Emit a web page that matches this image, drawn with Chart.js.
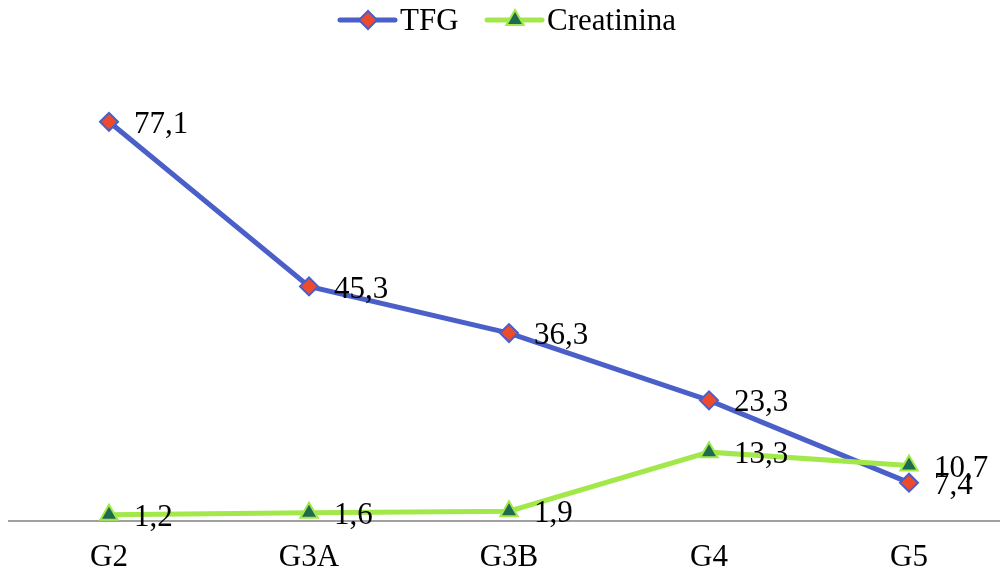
<!DOCTYPE html>
<html>
<head>
<meta charset="utf-8">
<script src="https://cdn.jsdelivr.net/npm/chart.js@4.4.1/dist/chart.umd.min.js"></script>
<style>
  html, body { margin: 0; padding: 0; background: #ffffff; overflow: hidden; }
</style>
</head>
<body>
<canvas id="chart" width="1000" height="575"></canvas>
<script>
// Stages of chronic kidney disease
const categories = ['G2', 'G3A', 'G3B', 'G4', 'G5'];
// Estimated glomerular filtration rate per stage
const tfgValues = [77.1, 45.3, 36.3, 23.3, 7.4];
// Serum creatinine per stage
const creatininaValues = [1.2, 1.6, 1.9, 13.3, 10.7];
const seriesNames = ['TFG', 'Creatinina'];

const FONT = '"Liberation Serif", "Times New Roman", serif';
const FONT_SIZE = 31;
const TFG_LINE = '#4A5FC8';
const TFG_FILL = '#EE4A2C';
const CREA_LINE = '#A2E84A';
const CREA_FILL = '#1F6B50';

const fmt = v => v.toFixed(1).replace('.', ',');
// Place each value at its category index on a numeric x axis
const toPoints = values => values.map((v, i) => ({ x: i, y: v }));

// Value labels to the right of each point
const valueLabels = {
  id: 'valueLabels',
  afterDatasetsDraw(chart) {
    const ctx = chart.ctx;
    ctx.save();
    ctx.font = FONT_SIZE + 'px ' + FONT;
    ctx.fillStyle = '#000000';
    ctx.textAlign = 'left';
    ctx.textBaseline = 'middle';
    chart.data.datasets.forEach((ds, i) => {
      const meta = chart.getDatasetMeta(i);
      meta.data.forEach((pt, j) => {
        ctx.fillText(fmt(ds.data[j].y), pt.x + 25, pt.y + 3);
      });
    });
    ctx.restore();
  }
};

// Legend with a line segment and the marker in its middle
const lineLegend = {
  id: 'lineLegend',
  afterDraw(chart) {
    const ctx = chart.ctx;
    ctx.save();
    ctx.font = FONT_SIZE + 'px ' + FONT;
    ctx.textBaseline = 'middle';
    ctx.textAlign = 'left';
    const y = 20;
    const items = [
      { ds: chart.data.datasets[0], x: 340 },
      { ds: chart.data.datasets[1], x: 487 }
    ];
    items.forEach(it => {
      const ds = it.ds;
      ctx.strokeStyle = ds.borderColor;
      ctx.lineWidth = ds.borderWidth;
      ctx.lineCap = 'round';
      ctx.beginPath();
      ctx.moveTo(it.x, y);
      ctx.lineTo(it.x + 55, y);
      ctx.stroke();
      ctx.fillStyle = ds.pointBackgroundColor;
      ctx.strokeStyle = ds.pointBorderColor;
      ctx.lineWidth = ds.pointBorderWidth;
      Chart.helpers.drawPoint(ctx, {
        pointStyle: ds.pointStyle,
        radius: ds.pointRadius,
        borderWidth: ds.pointBorderWidth,
        rotation: 0
      }, it.x + 28, y);
      ctx.fillStyle = '#000000';
      ctx.fillText(ds.label, it.x + 60, y + 2);
    });
    ctx.restore();
  }
};

new Chart(document.getElementById('chart'), {
  type: 'line',
  data: {
    datasets: [
      {
        label: seriesNames[0],
        data: toPoints(tfgValues),
        order: 1,
        borderColor: TFG_LINE,
        borderWidth: 5,
        pointStyle: 'rectRot',
        pointRadius: 9,
        pointHoverRadius: 9,
        pointBackgroundColor: TFG_FILL,
        pointBorderColor: TFG_LINE,
        pointBorderWidth: 2,
        tension: 0
      },
      {
        label: seriesNames[1],
        data: toPoints(creatininaValues),
        order: 0,
        borderColor: CREA_LINE,
        borderWidth: 5,
        pointStyle: 'triangle',
        pointRadius: 10,
        pointHoverRadius: 10,
        pointBackgroundColor: CREA_FILL,
        pointBorderColor: CREA_LINE,
        pointBorderWidth: 2,
        tension: 0,
        clip: false
      }
    ]
  },
  options: {
    responsive: false,
    devicePixelRatio: 1,
    animation: false,
    layout: { autoPadding: false, padding: { top: 55, left: 9, right: 0, bottom: 0 } },
    plugins: {
      legend: { display: false },
      tooltip: { enabled: false }
    },
    scales: {
      x: {
        type: 'linear',
        min: -0.5,
        max: 4.455,
        grid: { display: false, drawTicks: false },
        border: { display: true, color: '#A0A0A0', width: 2 },
        afterBuildTicks(scale) {
          scale.ticks = categories.map((c, i) => ({ value: i }));
        },
        ticks: {
          color: '#000000',
          padding: 18,
          autoSkip: false,
          maxRotation: 0,
          font: { family: FONT, size: FONT_SIZE },
          callback: value => categories[value]
        },
        afterFit(scale) {
          scale.height = 54;
          scale.paddingLeft = 0;
          scale.paddingRight = 0;
        }
      },
      y: {
        display: false,
        min: 0,
        max: 90
      }
    }
  },
  plugins: [valueLabels, lineLegend]
});
</script>
</body>
</html>
